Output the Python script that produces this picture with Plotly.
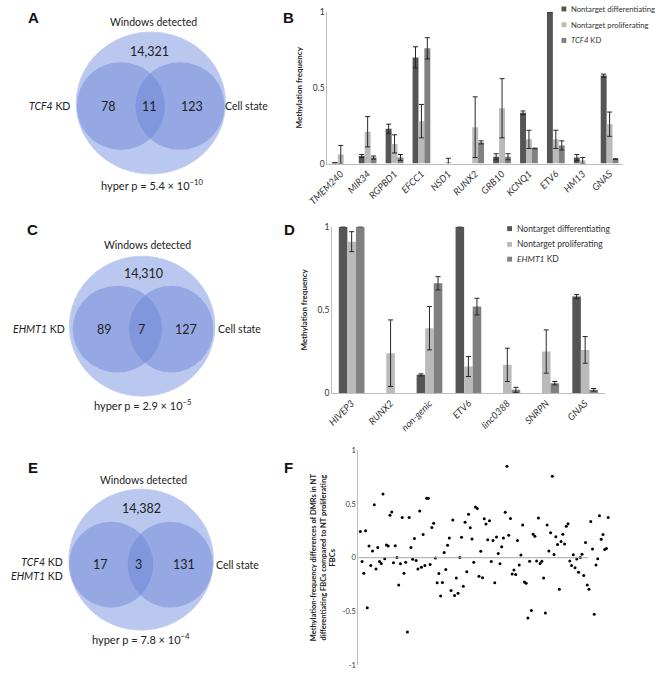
import plotly.graph_objects as go

W, H = 656, 676
FONT = "Lato"
LETTER_FONT = "Liberation Sans"

# ---------------- data ----------------
venn_totals = ["14,321", "14,310", "14,382"]
venn_left = ["78", "89", "17"]
venn_mid = ["11", "7", "3"]
venn_right = ["123", "127", "131"]
venn_left_labels = ["<i>TCF4</i> KD", "<i>EHMT1</i> KD", "<i>TCF4</i> KD<br><i>EHMT1</i> KD"]
venn_right_label = "Cell state"
venn_title = "Windows detected"
venn_pvalues = ["hyper p = 5.4 × 10<sup>−10</sup>",
                "hyper p = 2.9 × 10<sup>−5</sup>",
                "hyper p = 7.8 × 10<sup>−4</sup>"]

series_names = ["Nontarget differentiating", "Nontarget proliferating"]
b_kd_name = "<i>TCF4</i> KD"
d_kd_name = "<i>EHMT1</i> KD"

b_genes = ["TMEM240", "MIR34", "RGPBD1", "EFCC1", "NSD1", "RUNX2", "GRB10", "KCNQ1", "ETV6", "HM13", "GNAS"]
b_diff = [0.005, 0.05, 0.23, 0.70, None, None, 0.045, 0.335, 1.0, 0.04, 0.58]
b_diff_err = [None, 0.01, 0.03, 0.07, None, None, 0.02, 0.012, None, 0.02, 0.01]
b_prol = [0.06, 0.21, 0.13, 0.28, 0.01, 0.24, 0.365, 0.16, 0.16, 0.02, 0.26]
b_prol_err = [0.06, 0.10, 0.06, 0.11, 0.025, 0.20, 0.195, 0.06, 0.06, 0.02, 0.08]
b_kd = [None, 0.04, 0.04, 0.76, None, 0.14, 0.045, 0.10, 0.12, None, 0.03]
b_kd_err = [None, 0.01, 0.02, 0.07, None, 0.01, 0.02, 0.002, 0.03, None, 0.002]

d_genes = ["HIVEP3", "RUNX2", "non-genic", "ETV6", "linc0388", "SNRPN", "GNAS"]
d_diff = [1.0, None, 0.11, 1.0, None, None, 0.58]
d_diff_err = [None, None, 0.006, None, None, None, 0.012]
d_prol = [0.91, 0.24, 0.39, 0.16, 0.17, 0.25, 0.26]
d_prol_err = [0.06, 0.20, 0.13, 0.06, 0.10, 0.13, 0.08]
d_kd = [1.0, None, 0.66, 0.52, 0.02, 0.06, 0.02]
d_kd_err = [None, None, 0.04, 0.05, 0.015, 0.01, 0.008]

f_values = [0.245, -0.036, -0.145, 0.25, -0.465, 0.109, -0.073, 0.063, 0.492, -0.106,
            0.094, -0.036, -0.054, 0.592, -0.009, 0.118, 0.109, 0.396, 0.426, -0.048,
            0.112, 0.003, -0.254, -0.057, 0.375, -0.145, -0.042, -0.692, 0.375, 0.094,
            -0.015, 0.178, -0.027, -0.106, 0.435, -0.088, 0.215, -0.073, 0.553, 0.553,
            -0.063, 0.281, 0.320, -0.003, -0.233, -0.148, -0.356, -0.230, 0.048, -0.109,
            0.115, 0.184, -0.305, 0.350, -0.353, -0.190, -0.332, 0.003, 0.190, -0.266,
            0.329, -0.130, 0.405, 0.278, 0.175, -0.042, 0.471, 0.459, -0.172, 0.060,
            -0.187, 0.363, 0.314, 0.166, 0.344, -0.036, 0.160, -0.233, 0.193, 0.039,
            -0.057, 0.103, 0.184, 0.423, 0.852, 0.208, 0.366, -0.151, -0.115, -0.157,
            0.160, -0.069, 0.024, 0.305, -0.227, -0.239, -0.562, -0.033, -0.492, 0.218,
            0.199, -0.030, 0.369, -0.054, -0.033, -0.190, -0.514, 0.305, 0.063, 0.233,
            0.758, 0.030, 0.196, 0.124, -0.293, 0.151, 0.218, 0.127, 0.293, 0.317,
            -0.030, -0.073, 0.027, -0.094, -0.012, -0.136, 0.003, 0.033, -0.166, 0.142,
            -0.254, -0.293, 0.338, 0.082, -0.526, -0.069, -0.009, 0.390, 0.172, 0.215,
            0.076, 0.085, 0.375]
f_title = ("Methylation-frequency differences of DMRs in NT<br>"
           "differentiating FBCs compared to NT proliferating<br>FBCs")

# ---------------- styling / layout constants ----------------
C_DARK, C_LIGHT, C_MID = "#555555", "#bababa", "#808080"
SERIES_COLORS = (C_DARK, C_LIGHT, C_MID)
ERR = dict(type="data", visible=True, color="#262626", thickness=1, width=2.5)
AXLINE = "#bdbdbd"
TXT = "#222222"


def px(x):
    return x / W


def py(y):
    return 1 - y / H


# venn geometry in pixels: (outer, left, right) each (cx, cy, rx, ry)
venn_geom = [
    [(135, 99.5, 77, 72), (104, 102.5, 45.5, 44.5), (165, 102.5, 46, 44.5)],
    [(126, 326, 75, 71), (100.5, 329, 46, 44), (156, 329, 43.5, 44)],
    [(125, 563, 74.5, 71.5), (94, 568, 43.5, 43.5), (155, 568, 44, 43.5)],
]
venn_text_pos = [
    dict(title=(138, 17), total=(134, 47), row=103, nums=(91, 134, 177), left=54, right=209, p=(136, 182)),
    dict(title=(132, 244), total=(127.5, 273), row=329, nums=(87.5, 125, 171.5), left=48, right=202, p=(126, 405)),
    dict(title=(127, 482), total=(125.5, 511), row=568, nums=(83.5, 122.5, 169), left=46, right=200, p=(125, 643)),
]
# legend placement (pixels): symbol x, text x, row y's, font size
legend_pos = [
    dict(sx=561, tx=566, rows=(4, 20, 36), size=7.7),
    dict(sx=505, tx=511, rows=(227, 243, 258), size=8.5),
]

fig = go.Figure()
shapes = []
annotations = []


def ann(text, x, y, size, xanchor="center", family=FONT, color=TXT, align="center"):
    annotations.append(dict(text=text, x=px(x), y=py(y), xref="paper", yref="paper",
                            xanchor=xanchor, yanchor="middle", showarrow=False, align=align,
                            font=dict(family=family, size=size, color=color)))


# ---- Venn diagrams ----
for i in range(3):
    outer, left, right = venn_geom[i]
    cx, cy, rx, ry = outer
    shapes.append(dict(type="circle", xref="paper", yref="paper",
                       x0=px(cx - rx), x1=px(cx + rx), y0=py(cy + ry), y1=py(cy - ry),
                       fillcolor="#bac7ef", line=dict(color="#c3cff3", width=1), layer="below"))
    for (ccx, ccy, crx, cry) in (left, right):
        shapes.append(dict(type="circle", xref="paper", yref="paper",
                           x0=px(ccx - crx), x1=px(ccx + crx), y0=py(ccy + cry), y1=py(ccy - cry),
                           fillcolor="rgba(105,130,212,0.45)", line=dict(width=0), layer="below"))
    t = venn_text_pos[i]
    ann(venn_title, *t["title"], 10.5)
    ann(venn_totals[i], *t["total"], 12.5)
    ann(venn_left[i], t["nums"][0], t["row"], 12.5)
    ann(venn_mid[i], t["nums"][1], t["row"], 12.5)
    ann(venn_right[i], t["nums"][2], t["row"], 12.5)
    ann(venn_left_labels[i], t["left"], t["row"] + (4 if i == 2 else 0), 10.5, xanchor="right", align="right")
    ann(venn_right_label, t["right"], t["row"], 10.5, xanchor="left")
    ann(venn_pvalues[i], *t["p"], 11)

# ---- Panel letters ----
for letter, (lx, ly) in zip("ABCDEF", [(14, 13), (277, 13), (13, 228), (278, 228), (13, 469), (277, 469)]):
    ann("<b>%s</b>" % letter, lx, ly, 15, family=LETTER_FONT, color="#111111")


# ---- Bar charts ----
def add_bars(genes, vals, errs, names, xa, ya, lp):
    for k, (v, e, n, c) in enumerate(zip(vals, errs, names, SERIES_COLORS)):
        fig.add_trace(go.Bar(x=genes, y=v, name=n, marker=dict(color=c, line=dict(width=0)),
                             error_y=dict(ERR, array=e), xaxis=xa, yaxis=ya, showlegend=False))
        ry = lp["rows"][k]
        shapes.append(dict(type="rect", xref="paper", yref="paper",
                           x0=px(lp["sx"] - 2.5), x1=px(lp["sx"] + 2.5),
                           y0=py(ry + 2.5), y1=py(ry - 2.5), fillcolor=c, line=dict(width=0)))
        ann(n, lp["tx"], ry, lp["size"], xanchor="left", color="#333333")


add_bars(b_genes, [b_diff, b_prol, b_kd], [b_diff_err, b_prol_err, b_kd_err],
         series_names + [b_kd_name], "x2", "y2", legend_pos[0])
add_bars(d_genes, [d_diff, d_prol, d_kd], [d_diff_err, d_prol_err, d_kd_err],
         series_names + [d_kd_name], "x3", "y3", legend_pos[1])

# ---- Scatter F ----
f_idx = list(range(1, len(f_values) + 1))
fig.add_trace(go.Scatter(x=f_idx, y=f_values, mode="markers",
                         marker=dict(color="#000000", size=3), xaxis="x4", yaxis="y4",
                         showlegend=False))

n = len(f_values)
step = (606.7 - 351) / (n - 1)
f_x_lo = 1 - (351 - 349) / step
f_x_hi = f_x_lo + (610 - 349) / step
shapes.append(dict(type="line", xref="paper", yref="y4", x0=px(349), x1=px(586), y0=0, y1=0,
                   line=dict(color="#a6a6a6", width=1)))

bar_y_common = dict(range=[0, 1], tickvals=[0, 0.5, 1], ticktext=["0", "0.5", "1"],
                    showgrid=False, zeroline=False, showline=True, linecolor=AXLINE, linewidth=1,
                    ticks="", tickfont=dict(family=FONT, size=8.5, color="#333333"),
                    title=dict(text="<b>Methylation frequency</b>", standoff=8,
                               font=dict(family=FONT, size=8, color=TXT)))
bar_x_common = dict(showgrid=False, zeroline=False, showline=True, linecolor=AXLINE, linewidth=1,
                    ticks="", tickangle=-45, type="category",
                    tickfont=dict(family=FONT, size=9.5, color="#333333"))

fig.update_layout(
    width=W, height=H, margin=dict(l=0, r=0, t=0, b=0),
    paper_bgcolor="white", plot_bgcolor="rgba(0,0,0,0)",
    font=dict(family=FONT, color=TXT), showlegend=False,
    barmode="group", bargap=0.34, bargroupgap=0,
    shapes=shapes, annotations=annotations,
    xaxis2=dict(bar_x_common, domain=[px(317), px(622)], anchor="y2",
                tickvals=b_genes, ticktext=["<i>%s</i>" % g for g in b_genes]),
    yaxis2=dict(bar_y_common, domain=[py(161), py(7)], anchor="x2"),
    xaxis3=dict(bar_x_common, domain=[px(322), px(603)], anchor="y3",
                tickvals=d_genes, ticktext=["<i>%s</i>" % g for g in d_genes]),
    yaxis3=dict(bar_y_common, domain=[py(394), py(225)], anchor="x3"),
    xaxis4=dict(domain=[px(349), px(610)], anchor="y4", range=[f_x_lo, f_x_hi], visible=False),
    yaxis4=dict(domain=[py(670), py(452)], anchor="x4", range=[-1, 1],
                tickvals=[-1, -0.5, 0, 0.5, 1], ticktext=["-1", "-0.5", "0", "0.5", "1"],
                showgrid=False, zeroline=False, showline=True, linecolor=AXLINE, linewidth=1,
                ticks="", tickfont=dict(family=FONT, size=7.5, color="#333333"),
                title=dict(text="<b>%s</b>" % f_title, standoff=5,
                           font=dict(family=FONT, size=7.5, color=TXT))),
)

fig.write_html("out.html",
               config={"displayModeBar": False, "staticPlot": True},
               post_script="document.body.style.margin='0';document.body.style.overflow='hidden';")
